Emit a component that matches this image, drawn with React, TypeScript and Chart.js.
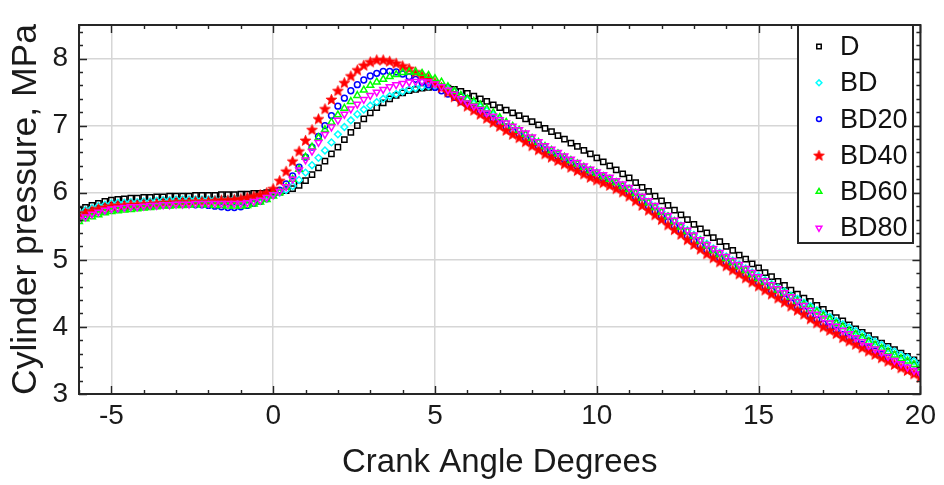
import React, { useEffect, useRef } from 'react';
import { Chart, registerables } from 'chart.js';
import { drawPoint } from 'chart.js/helpers';

Chart.register(...registerables);

const FONT = "'Liberation Sans', Arial, Helvetica, sans-serif";
const INK = '#262626';

const crankAngles: number[] = [
  -6, -5.8, -5.6, -5.4, -5.2, -5, -4.8, -4.6, -4.4, -4.2,
  -4, -3.8, -3.6, -3.4, -3.2, -3, -2.8, -2.6, -2.4, -2.2,
  -2, -1.8, -1.6, -1.4, -1.2, -1, -0.8, -0.6, -0.4, -0.2,
  0, 0.2, 0.4, 0.6, 0.8, 1, 1.2, 1.4, 1.6, 1.8,
  2, 2.2, 2.4, 2.6, 2.8, 3, 3.2, 3.4, 3.6, 3.8,
  4, 4.2, 4.4, 4.6, 4.8, 5, 5.2, 5.4, 5.6, 5.8,
  6, 6.2, 6.4, 6.6, 6.8, 7, 7.2, 7.4, 7.6, 7.8,
  8, 8.2, 8.4, 8.6, 8.8, 9, 9.2, 9.4, 9.6, 9.8,
  10, 10.2, 10.4, 10.6, 10.8, 11, 11.2, 11.4, 11.6, 11.8,
  12, 12.2, 12.4, 12.6, 12.8, 13, 13.2, 13.4, 13.6, 13.8,
  14, 14.2, 14.4, 14.6, 14.8, 15, 15.2, 15.4, 15.6, 15.8,
  16, 16.2, 16.4, 16.6, 16.8, 17, 17.2, 17.4, 17.6, 17.8,
  18, 18.2, 18.4, 18.6, 18.8, 19, 19.2, 19.4, 19.6, 19.8,
  20,
];

const pressureD: number[] = [
  5.74, 5.78, 5.81, 5.84, 5.87, 5.89, 5.90, 5.91, 5.92, 5.92,
  5.93, 5.93, 5.94, 5.94, 5.95, 5.95, 5.95, 5.95, 5.96, 5.96,
  5.96, 5.96, 5.97, 5.97, 5.97, 5.98, 5.98, 5.99, 5.99, 6.00,
  6.01, 6.01, 6.03, 6.06, 6.11, 6.18, 6.27, 6.37, 6.47, 6.58,
  6.68, 6.79, 6.90, 7.00, 7.10, 7.19, 7.27, 7.34, 7.40, 7.45,
  7.49, 7.52, 7.54, 7.56, 7.57, 7.58, 7.57, 7.56, 7.54, 7.51,
  7.48, 7.44, 7.40, 7.36, 7.31, 7.27, 7.23, 7.19, 7.15, 7.10,
  7.06, 7.01, 6.96, 6.91, 6.85, 6.80, 6.74, 6.69, 6.63, 6.58,
  6.52, 6.46, 6.40, 6.34, 6.28, 6.22, 6.15, 6.08, 6.02, 5.95,
  5.88, 5.81, 5.74, 5.67, 5.60, 5.53, 5.46, 5.40, 5.33, 5.27,
  5.20, 5.14, 5.07, 5.01, 4.94, 4.88, 4.81, 4.75, 4.68, 4.62,
  4.55, 4.49, 4.43, 4.38, 4.32, 4.26, 4.20, 4.14, 4.09, 4.03,
  3.97, 3.92, 3.87, 3.81, 3.76, 3.71, 3.66, 3.61, 3.56, 3.51,
  3.46,
];

const pressureBD: number[] = [
  5.70, 5.74, 5.77, 5.80, 5.82, 5.84, 5.85, 5.85, 5.86, 5.86,
  5.87, 5.87, 5.88, 5.89, 5.89, 5.90, 5.90, 5.90, 5.90, 5.90,
  5.90, 5.90, 5.90, 5.90, 5.91, 5.91, 5.92, 5.93, 5.94, 5.96,
  5.98, 6.00, 6.04, 6.10, 6.19, 6.30, 6.41, 6.52, 6.63, 6.75,
  6.87, 6.98, 7.08, 7.17, 7.24, 7.30, 7.35, 7.40, 7.44, 7.47,
  7.51, 7.54, 7.56, 7.58, 7.59, 7.59, 7.58, 7.55, 7.51, 7.45,
  7.38, 7.33, 7.28, 7.22, 7.16, 7.10, 7.04, 6.98, 6.92, 6.86,
  6.80, 6.74, 6.68, 6.63, 6.58, 6.53, 6.48, 6.43, 6.38, 6.34,
  6.30, 6.25, 6.21, 6.16, 6.11, 6.06, 6.00, 5.93, 5.86, 5.79,
  5.72, 5.65, 5.58, 5.51, 5.44, 5.37, 5.30, 5.24, 5.17, 5.11,
  5.05, 4.99, 4.93, 4.87, 4.81, 4.76, 4.70, 4.64, 4.58, 4.53,
  4.47, 4.42, 4.36, 4.31, 4.25, 4.20, 4.15, 4.09, 4.04, 3.99,
  3.94, 3.89, 3.83, 3.78, 3.73, 3.68, 3.63, 3.58, 3.54, 3.49,
  3.44,
];

const pressureBD20: number[] = [
  5.62, 5.66, 5.69, 5.72, 5.74, 5.76, 5.77, 5.78, 5.79, 5.79,
  5.80, 5.81, 5.81, 5.82, 5.82, 5.83, 5.83, 5.83, 5.82, 5.82,
  5.81, 5.80, 5.79, 5.78, 5.78, 5.79, 5.81, 5.84, 5.87, 5.91,
  5.97, 6.04, 6.13, 6.25, 6.38, 6.53, 6.68, 6.84, 7.00, 7.15,
  7.29, 7.41, 7.52, 7.61, 7.68, 7.74, 7.78, 7.81, 7.81, 7.80,
  7.77, 7.73, 7.69, 7.65, 7.61, 7.57, 7.52, 7.47, 7.42, 7.36,
  7.31, 7.27, 7.22, 7.16, 7.10, 7.04, 6.98, 6.92, 6.87, 6.81,
  6.75, 6.69, 6.64, 6.59, 6.54, 6.49, 6.44, 6.39, 6.34, 6.29,
  6.25, 6.21, 6.16, 6.11, 6.06, 6.00, 5.93, 5.86, 5.79, 5.72,
  5.65, 5.57, 5.50, 5.43, 5.35, 5.28, 5.21, 5.14, 5.08, 5.02,
  4.96, 4.90, 4.84, 4.78, 4.72, 4.66, 4.60, 4.54, 4.48, 4.42,
  4.36, 4.30, 4.24, 4.17, 4.11, 4.05, 4.00, 3.95, 3.89, 3.84,
  3.79, 3.74, 3.69, 3.64, 3.59, 3.54, 3.49, 3.44, 3.39, 3.34,
  3.29,
];

const pressureBD40: number[] = [
  5.66, 5.70, 5.73, 5.76, 5.78, 5.80, 5.81, 5.81, 5.82, 5.82,
  5.83, 5.83, 5.84, 5.85, 5.85, 5.86, 5.86, 5.86, 5.87, 5.87,
  5.87, 5.88, 5.89, 5.89, 5.90, 5.91, 5.93, 5.95, 5.97, 6.00,
  6.06, 6.18, 6.32, 6.47, 6.62, 6.78, 6.94, 7.10, 7.25, 7.39,
  7.52, 7.64, 7.74, 7.83, 7.90, 7.95, 7.98, 7.98, 7.96, 7.93,
  7.89, 7.85, 7.80, 7.75, 7.70, 7.64, 7.57, 7.50, 7.43, 7.36,
  7.29, 7.23, 7.17, 7.11, 7.05, 6.99, 6.93, 6.87, 6.82, 6.76,
  6.70, 6.64, 6.58, 6.53, 6.48, 6.43, 6.38, 6.33, 6.28, 6.23,
  6.19, 6.15, 6.11, 6.06, 6.01, 5.95, 5.88, 5.81, 5.74, 5.67,
  5.60, 5.52, 5.45, 5.38, 5.30, 5.23, 5.16, 5.09, 5.03, 4.97,
  4.91, 4.85, 4.79, 4.73, 4.67, 4.61, 4.55, 4.49, 4.43, 4.37,
  4.31, 4.25, 4.19, 4.12, 4.06, 4.00, 3.95, 3.90, 3.84, 3.79,
  3.74, 3.69, 3.64, 3.59, 3.54, 3.49, 3.44, 3.39, 3.35, 3.30,
  3.25,
];

const pressureBD60: number[] = [
  5.57, 5.61, 5.64, 5.67, 5.70, 5.72, 5.73, 5.74, 5.75, 5.76,
  5.77, 5.78, 5.79, 5.80, 5.80, 5.81, 5.81, 5.82, 5.82, 5.82,
  5.82, 5.81, 5.81, 5.80, 5.80, 5.80, 5.81, 5.83, 5.86, 5.90,
  5.95, 6.00, 6.08, 6.20, 6.35, 6.53, 6.68, 6.82, 6.94, 7.05,
  7.16, 7.26, 7.36, 7.45, 7.53, 7.60, 7.65, 7.69, 7.73, 7.76,
  7.79, 7.80, 7.80, 7.78, 7.75, 7.70, 7.65, 7.58, 7.51, 7.45,
  7.40, 7.36, 7.31, 7.25, 7.19, 7.12, 7.05, 6.99, 6.93, 6.87,
  6.81, 6.75, 6.69, 6.63, 6.58, 6.53, 6.48, 6.43, 6.38, 6.33,
  6.29, 6.24, 6.20, 6.15, 6.10, 6.05, 5.99, 5.92, 5.85, 5.78,
  5.71, 5.64, 5.57, 5.49, 5.42, 5.35, 5.28, 5.21, 5.14, 5.08,
  5.02, 4.96, 4.90, 4.84, 4.78, 4.72, 4.67, 4.61, 4.55, 4.50,
  4.44, 4.38, 4.33, 4.27, 4.22, 4.16, 4.11, 4.05, 4.00, 3.94,
  3.89, 3.84, 3.78, 3.73, 3.68, 3.63, 3.58, 3.53, 3.49, 3.44,
  3.39,
];

const pressureBD80: number[] = [
  5.60, 5.64, 5.68, 5.71, 5.74, 5.76, 5.77, 5.78, 5.79, 5.79,
  5.80, 5.81, 5.81, 5.82, 5.82, 5.83, 5.83, 5.83, 5.84, 5.84,
  5.84, 5.84, 5.84, 5.84, 5.84, 5.84, 5.85, 5.87, 5.89, 5.93,
  5.97, 6.02, 6.09, 6.20, 6.34, 6.49, 6.62, 6.75, 6.87, 6.98,
  7.08, 7.17, 7.25, 7.32, 7.39, 7.45, 7.50, 7.54, 7.58, 7.61,
  7.63, 7.65, 7.66, 7.66, 7.65, 7.62, 7.58, 7.53, 7.47, 7.40,
  7.34, 7.29, 7.24, 7.19, 7.14, 7.09, 7.04, 6.99, 6.94, 6.89,
  6.83, 6.76, 6.70, 6.65, 6.60, 6.55, 6.50, 6.45, 6.40, 6.35,
  6.31, 6.27, 6.23, 6.18, 6.13, 6.08, 6.02, 5.95, 5.88, 5.81,
  5.74, 5.66, 5.59, 5.52, 5.44, 5.37, 5.30, 5.23, 5.17, 5.11,
  5.05, 4.99, 4.93, 4.87, 4.81, 4.75, 4.69, 4.63, 4.57, 4.51,
  4.45, 4.38, 4.32, 4.25, 4.19, 4.13, 4.06, 4.01, 3.95, 3.90,
  3.84, 3.78, 3.72, 3.67, 3.62, 3.56, 3.50, 3.45, 3.40, 3.35,
  3.30,
];

const seriesNames: string[] = ['D', 'BD', 'BD20', 'BD40', 'BD60', 'BD80'];
const seriesValues: number[][] = [pressureD, pressureBD, pressureBD20, pressureBD40, pressureBD60, pressureBD80];
const seriesColors: string[] = ['#000000', '#00ffff', '#0000ff', '#ff0000', '#00ff00', '#ff00ff'];

const xTicks: number[] = [-5, 0, 5, 10, 15, 20];
const xTickLabels: string[] = ['-5', '0', '5', '10', '15', '20'];
const yTicks: number[] = [3, 4, 5, 6, 7, 8];
const yTickLabels: string[] = ['3', '4', '5', '6', '7', '8'];

const X_MIN = -6;
const X_MAX = 20;
const Y_MIN = 3;
const Y_MAX = 8.5;

function makeStar(color: string): HTMLCanvasElement {
  const c = document.createElement('canvas');
  const s = 13;
  c.width = s;
  c.height = s;
  const ctx = c.getContext('2d')!;
  const cx = s / 2;
  const cy = s / 2 + 0.4;
  const R = 5.6;
  const r = 2.4;
  ctx.beginPath();
  for (let k = 0; k < 10; k++) {
    const ang = -Math.PI / 2 + (k * Math.PI) / 5;
    const rad = k % 2 === 0 ? R : r;
    const px = cx + rad * Math.cos(ang);
    const py = cy + rad * Math.sin(ang);
    if (k === 0) ctx.moveTo(px, py);
    else ctx.lineTo(px, py);
  }
  ctx.closePath();
  ctx.fillStyle = color;
  ctx.strokeStyle = color;
  ctx.lineWidth = 0.8;
  ctx.fill();
  ctx.stroke();
  return c;
}

const framePlugin = {
  id: 'matlabFrame',
  afterDatasetsDraw(chart: any) {
    const { ctx, chartArea } = chart;
    const { left, right, top, bottom } = chartArea;
    const xs = chart.scales.x;
    const ys = chart.scales.y;
    ctx.save();
    ctx.strokeStyle = INK;
    ctx.lineWidth = 1.4;
    ctx.beginPath();
    for (let v = X_MIN; v <= X_MAX; v++) {
      const px = Math.round(xs.getPixelForValue(v)) + 0.5;
      const len = v % 5 === 0 ? 8 : 4;
      ctx.moveTo(px, bottom);
      ctx.lineTo(px, bottom - len);
      ctx.moveTo(px, top);
      ctx.lineTo(px, top + len);
    }
    for (let k = 0; k <= 27; k++) {
      const v = Y_MIN + k * 0.2;
      const py = Math.round(ys.getPixelForValue(v)) + 0.5;
      const len = k % 5 === 0 ? 8 : 4;
      ctx.moveTo(left, py);
      ctx.lineTo(left + len, py);
      ctx.moveTo(right, py);
      ctx.lineTo(right - len, py);
    }
    ctx.stroke();
    ctx.lineWidth = 2;
    ctx.strokeRect(left, top, right - left, bottom - top);
    ctx.restore();
  },
};

const legendPlugin = {
  id: 'matlabLegend',
  afterDraw(chart: any) {
    const { ctx } = chart;
    const boxL = 798;
    const boxT = 25;
    const boxW = 115;
    const boxH = 218;
    ctx.save();
    ctx.fillStyle = '#ffffff';
    ctx.fillRect(boxL, boxT, boxW, boxH);
    ctx.strokeStyle = INK;
    ctx.lineWidth = 2;
    ctx.strokeRect(boxL, boxT, boxW, boxH);
    chart.data.datasets.forEach((ds: any, i: number) => {
      const cy = boxT + 21.5 + i * 36.3;
      ctx.strokeStyle = ds.borderColor;
      ctx.fillStyle = 'rgba(0,0,0,0)';
      ctx.lineWidth = ds.pointBorderWidth;
      drawPoint(ctx, {
        pointStyle: ds.pointStyle,
        radius: ds.pointRadius * 0.85,
        rotation: ds.pointRotation || 0,
        borderWidth: ds.pointBorderWidth,
      } as any, 819, cy);
      ctx.fillStyle = '#111111';
      ctx.font = `27px ${FONT}`;
      ctx.textAlign = 'left';
      ctx.textBaseline = 'middle';
      ctx.fillText(ds.label, 840, cy + 1);
    });
    ctx.restore();
  },
};

export default function App() {
  const canvasRef = useRef<HTMLCanvasElement | null>(null);

  useEffect(() => {
    const canvas = canvasRef.current;
    if (!canvas) return;
    const star = makeStar('#ff0000');
    const styles: any[] = [
      { pointStyle: 'rect', pointRadius: 3.7, pointRotation: 0 },
      { pointStyle: 'rectRot', pointRadius: 3.4, pointRotation: 0 },
      { pointStyle: 'circle', pointRadius: 2.9, pointRotation: 0 },
      { pointStyle: star, pointRadius: 4.5, pointRotation: 0 },
      { pointStyle: 'triangle', pointRadius: 3.9, pointRotation: 0 },
      { pointStyle: 'triangle', pointRadius: 3.9, pointRotation: 180 },
    ];
    const datasets = seriesNames.map((name, si) => ({
      label: name,
      data: crankAngles.map((a, i) => ({ x: a, y: seriesValues[si][i] })),
      showLine: false,
      borderColor: seriesColors[si],
      backgroundColor: 'rgba(0,0,0,0)',
      pointBackgroundColor: 'rgba(0,0,0,0)',
      pointBorderColor: seriesColors[si],
      pointBorderWidth: 1.5,
      pointStyle: styles[si].pointStyle,
      pointRadius: styles[si].pointRadius,
      pointRotation: styles[si].pointRotation,
      order: seriesNames.length - si,
    }));

    const chart = new Chart(canvas, {
      type: 'scatter',
      data: { datasets },
      options: {
        responsive: false,
        animation: false,
        events: [],
        layout: { padding: { left: 0, right: 19, top: 15, bottom: 0 } },
        plugins: { legend: { display: false }, tooltip: { enabled: false } },
        scales: {
          x: {
            type: 'linear',
            min: X_MIN,
            max: X_MAX,
            afterBuildTicks: (s: any) => {
              s.ticks = xTicks.map((v) => ({ value: v }));
            },
            afterFit: (s: any) => {
              s.height = 91;
            },
            ticks: {
              autoSkip: false,
              maxRotation: 0,
              padding: 8,
              color: '#1a1a1a',
              font: { family: FONT, size: 28, lineHeight: 1 },
              callback: (_v: any, i: number) => xTickLabels[i],
            },
            grid: { color: '#d6d6d6', lineWidth: 1.5, drawTicks: false },
            border: { display: false },
            title: {
              display: true,
              text: 'Crank Angle Degrees',
              color: '#1a1a1a',
              font: { family: FONT, size: 33, lineHeight: 1.2 },
              padding: { top: 0, bottom: 2 },
            },
          },
          y: {
            type: 'linear',
            min: Y_MIN,
            max: Y_MAX,
            afterBuildTicks: (s: any) => {
              s.ticks = yTicks.map((v) => ({ value: v }));
            },
            afterFit: (s: any) => {
              s.width = 79;
            },
            ticks: {
              autoSkip: false,
              padding: 11,
              color: '#1a1a1a',
              font: { family: FONT, size: 28, lineHeight: 1 },
              callback: (_v: any, i: number) => yTickLabels[i],
            },
            grid: { color: '#d6d6d6', lineWidth: 1.5, drawTicks: false },
            border: { display: false },
            title: {
              display: true,
              text: 'Cylinder pressure, MPa',
              color: '#1a1a1a',
              font: { family: FONT, size: 35.5, lineHeight: 1.2 },
              padding: { top: 5, bottom: 0 },
            },
          },
        },
      } as any,
      plugins: [framePlugin, legendPlugin],
    });
    return () => chart.destroy();
  }, []);

  return (
    <div style={{ position: 'absolute', left: 0, top: 0, width: 944, height: 485, background: '#ffffff' }}>
      <canvas ref={canvasRef} width={944} height={485} style={{ display: 'block' }} />
    </div>
  );
}
